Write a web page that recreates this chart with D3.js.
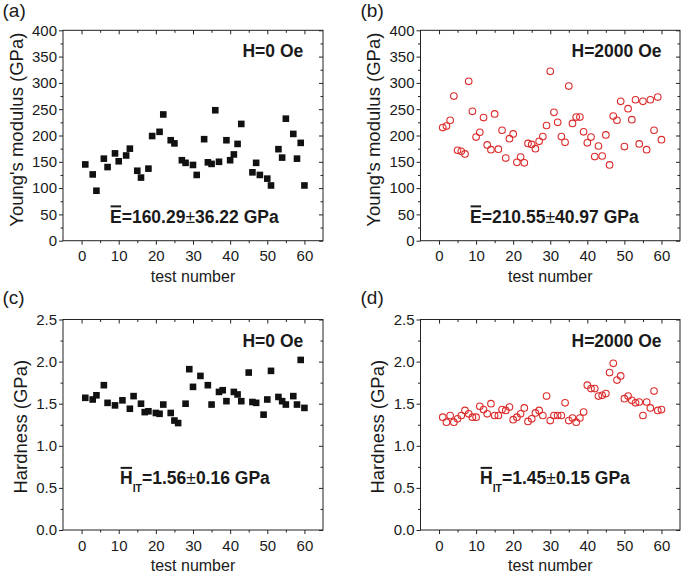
<!DOCTYPE html>
<html><head><meta charset="utf-8">
<script src="https://cdn.jsdelivr.net/npm/d3@7"></script>
<style>
body{margin:0;background:#fff}
svg text{font-family:"Liberation Sans",Arial,sans-serif;fill:#1a1a1a}
</style>
</head><body>
<svg id="chart" width="685" height="575"></svg>
<script>
// ---------------- data ----------------
const testA  = [1,3,4,6,7,9,10,12,13,15,16,18,19,21,22,24,25,27,28,30,31,33,34,35,36,37,39,40,41,42,43,46,47,48,50,51,53,54,55,57,58,59,60];
const youngA = [145,126,95,156,140,166,151,162,175,133,120,137,199,207,240,191,185,153,148,144,125,193,149,146,248,150,191,153,164,184,222,130,148,125,118,105,174,158,232,203,156,186,105];

const testB  = [1,2,3,4,5,6,7,8,9,10,11,12,13,14,15,16,17,18,19,20,21,22,23,24,25,26,27,28,29,30,31,32,33,34,35,36,37,38,39,40,41,42,43,44,45,46,47,48,49,50,51,52,53,54,55,56,57,58,59,60];
const youngB = [215,218,229,275,172,170,165,303,246,197,206,234,182,173,241,174,210,157,194,203,149,159,148,185,183,175,189,198,219,322,244,225,198,187,294,223,235,235,207,186,197,160,180,161,201,144,237,229,265,179,251,230,268,184,265,173,268,210,273,192];

const testC  = [1,3,4,6,7,9,11,13,14,16,17,18,20,21,22,24,25,26,28,29,30,32,34,35,37,38,39,41,42,43,45,46,47,49,50,51,53,54,55,57,58,59,60];
const hardC  = [1.57,1.55,1.60,1.72,1.51,1.48,1.54,1.44,1.59,1.50,1.40,1.41,1.39,1.38,1.49,1.39,1.30,1.27,1.50,1.91,1.70,1.83,1.72,1.49,1.64,1.66,1.53,1.64,1.61,1.53,1.87,1.52,1.51,1.37,1.55,1.89,1.58,1.53,1.49,1.59,1.49,2.02,1.45];

const testD  = [1,2,3,4,5,6,7,8,9,10,11,12,13,14,15,16,17,18,19,20,21,22,23,24,25,26,27,28,29,30,31,32,33,34,35,36,37,38,39,40,41,42,43,44,45,46,47,48,49,50,51,52,53,54,55,56,57,58,59,60];
const hardD  = [1.34,1.28,1.36,1.28,1.32,1.36,1.42,1.38,1.34,1.34,1.47,1.43,1.38,1.50,1.36,1.36,1.43,1.42,1.46,1.31,1.34,1.38,1.45,1.29,1.32,1.39,1.42,1.36,1.59,1.30,1.36,1.36,1.36,1.51,1.30,1.33,1.28,1.33,1.40,1.72,1.68,1.68,1.59,1.60,1.62,1.87,1.98,1.78,1.83,1.56,1.59,1.54,1.51,1.52,1.36,1.52,1.45,1.65,1.42,1.43];

const testTicks  = [0,10,20,30,40,50,60];
const youngTicks = [0,50,100,150,200,250,300,350,400];
const hardTicks  = [0.0,0.5,1.0,1.5,2.0,2.5];

const panelTags   = ["(a)","(b)","(c)","(d)"];
const fieldLabels = ["H=0 Oe","H=2000 Oe","H=0 Oe","H=2000 Oe"];
const meanSymbol  = ["E","E","H","H"];
const meanSub     = ["","","IT","IT"];
const meanValue   = ["160.29","210.55","1.56","1.45"];
const meanError   = ["36.22","40.97","0.16","0.15"];
const yTitles     = ["Young's modulus (GPa)","Young's modulus (GPa)","Hardness (GPa)","Hardness (GPa)"];
const xTitle      = "test number";

// ---------------- layout ----------------
const svg = d3.select("#chart");
const cols = [{x0:63, x1:323},{x0:420.5, x1:680}];
const rows = [{y0:30.3, y1:240.7},{y0:319.5, y1:530}];
const RED = "#dc2b2b";

const panels = [
  {i:0, col:0,row:0, xs:testA, ys:youngA, mk:"sq", ticks:youngTicks, fmt:d3.format("d")},
  {i:1, col:1,row:0, xs:testB, ys:youngB, mk:"ci", ticks:youngTicks, fmt:d3.format("d")},
  {i:2, col:0,row:1, xs:testC, ys:hardC,  mk:"sq", ticks:hardTicks,  fmt:d3.format(".1f")},
  {i:3, col:1,row:1, xs:testD, ys:hardD,  mk:"ci", ticks:hardTicks,  fmt:d3.format(".1f")}
];

function mids(arr){const o=[];for(let k=0;k<arr.length-1;k++)o.push((arr[k]+arr[k+1])/2);return o;}

panels.forEach(p=>{
  const {x0,x1} = cols[p.col], {y0,y1} = rows[p.row];
  const x = d3.scaleLinear().domain([-5,65]).range([x0,x1]);
  const y = d3.scaleLinear().domain([p.ticks[0], p.ticks[p.ticks.length-1]]).range([y1,y0]);
  const g = svg.append("g");
  const xMinor = mids(testTicks), yMinor = mids(p.ticks);

  const style = sel => { sel.select(".domain").remove();
    sel.selectAll("line").attr("stroke","#222").attr("stroke-width",1);
    sel.selectAll("text").attr("font-size",15).attr("fill","#1a1a1a").attr("font-family",'"Liberation Sans",Arial,sans-serif'); };

  // bottom axis
  g.append("g").attr("transform",`translate(0,${y1})`)
    .call(d3.axisBottom(x).tickValues(testTicks).tickSize(4).tickPadding(6).tickFormat(d3.format("d"))).call(style);
  g.append("g").attr("transform",`translate(0,${y1})`)
    .call(d3.axisBottom(x).tickValues(xMinor).tickSize(2.5).tickFormat("")).call(style);
  // top axis (inward)
  g.append("g").attr("transform",`translate(0,${y0})`)
    .call(d3.axisTop(x).tickValues(testTicks).tickSize(-4).tickFormat("")).call(style);
  g.append("g").attr("transform",`translate(0,${y0})`)
    .call(d3.axisTop(x).tickValues(xMinor).tickSize(-2.5).tickFormat("")).call(style);
  // left axis
  g.append("g").attr("transform",`translate(${x0},0)`)
    .call(d3.axisLeft(y).tickValues(p.ticks).tickSize(4).tickPadding(2).tickFormat(p.fmt)).call(style);
  g.append("g").attr("transform",`translate(${x0},0)`)
    .call(d3.axisLeft(y).tickValues(yMinor).tickSize(2.5).tickFormat("")).call(style);
  // right axis (inward)
  g.append("g").attr("transform",`translate(${x1},0)`)
    .call(d3.axisRight(y).tickValues(p.ticks).tickSize(-4).tickFormat("")).call(style);
  g.append("g").attr("transform",`translate(${x1},0)`)
    .call(d3.axisRight(y).tickValues(yMinor).tickSize(-2.5).tickFormat("")).call(style);

  // frame
  g.append("rect").attr("x",x0).attr("y",y0).attr("width",x1-x0).attr("height",y1-y0)
    .attr("fill","none").attr("stroke","#222").attr("stroke-width",1);

  // data marks
  const pts = p.xs.map((v,k)=>[v,p.ys[k]]);
  if(p.mk==="sq"){
    const s=6.6;
    g.selectAll("rect.pt").data(pts).join("rect").attr("class","pt")
      .attr("x",d=>x(d[0])-s/2).attr("y",d=>y(d[1])-s/2).attr("width",s).attr("height",s).attr("fill","#111");
  } else {
    g.selectAll("circle.pt").data(pts).join("circle").attr("class","pt")
      .attr("cx",d=>x(d[0])).attr("cy",d=>y(d[1])).attr("r",3.3)
      .attr("fill","none").attr("stroke",RED).attr("stroke-width",1.1);
  }

  // axis titles
  g.append("text").attr("x",(x0+x1)/2).attr("y",y1+41).attr("text-anchor","middle")
    .attr("font-size",16).text(xTitle);
  const isYoung = p.row===0;
  const ty = isYoung ? y0+99.4 : y0+107.2;
  const tx = isYoung ? x0-40.5 : x0-36.5;
  g.append("text").attr("transform",`translate(${tx},${ty}) rotate(-90)`).attr("text-anchor","middle")
    .attr("font-size",18.5).text(yTitles[p.i]);

  // panel tag
  g.append("text").attr("x", p.col===0 ? 2.5 : 360.5).attr("y", p.row===0 ? 16.5 : 304)
    .attr("font-size",19).text(panelTags[p.i]);

  // field label
  g.append("text").attr("x",x1-(p.col===0?19.7:18.5)).attr("y",y0+27).attr("text-anchor","end")
    .attr("font-size",17.5).attr("font-weight","bold").text(fieldLabels[p.i]);

  // mean label
  const mx = x0 + (isYoung ? (p.col===0?47:49.5) : (p.col===0?57:59.5));
  const my = isYoung ? y0+192.2 : y0+164.5;
  const t = g.append("text").attr("x",mx).attr("y",my).attr("font-size",17.5).attr("font-weight","bold");
  t.append("tspan").text(meanSymbol[p.i]);
  if(meanSub[p.i]){
    t.append("tspan").attr("font-size",10.5).attr("dy",8).text(meanSub[p.i]);
    t.append("tspan").attr("dy",-8).text("=" + meanValue[p.i]);
  } else {
    t.append("tspan").text("=" + meanValue[p.i]);
  }
  t.append("tspan").attr("font-weight","normal").text("\u00B1");
  t.append("tspan").text(meanError[p.i] + " GPa");
  const ext = t.node().getExtentOfChar(0);
  const oy = my - 17.5*0.716 - 3.6;
  g.append("line").attr("x1",ext.x+0.6).attr("x2",ext.x+ext.width-0.6)
    .attr("y1",oy).attr("y2",oy).attr("stroke","#1a1a1a").attr("stroke-width",2);
});
</script>
</body></html>
